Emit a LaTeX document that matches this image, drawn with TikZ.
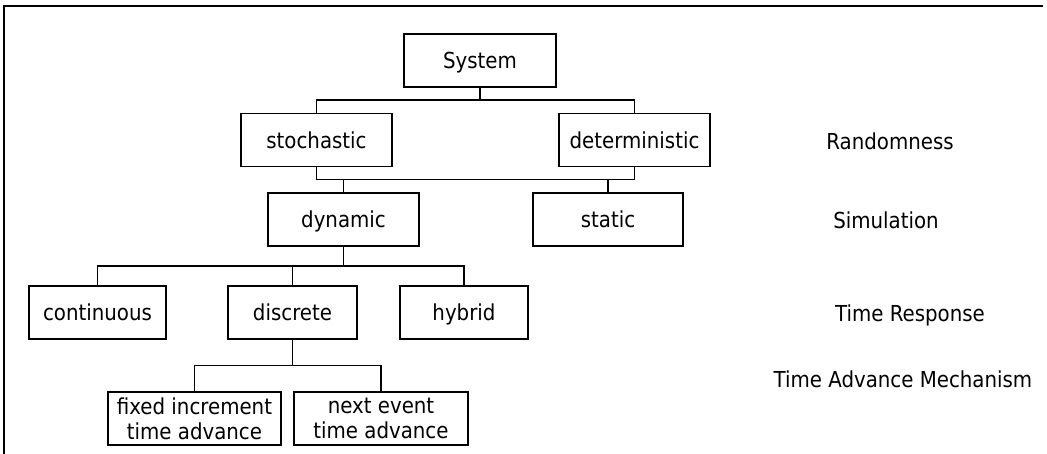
\documentclass[tikz,border=0pt]{standalone}
\usepackage{fontspec}
\setmainfont{DejaVu Sans Condensed}
\usetikzlibrary{calc}

\begin{document}
\begin{tikzpicture}[x=0.5pt,y=-0.5pt]
  % Styles
  \tikzstyle{class box}=[draw,line width=0.8pt,minimum height=26.5pt,inner sep=1pt,
    align=center,text depth=0pt,font=\fontsize{11}{12.5}\selectfont]
  \tikzstyle{level text}=[text depth=0pt,font=\fontsize{11}{12.5}\selectfont]
  \tikzstyle{branch}=[line width=0.75pt,
    to path={|- ($(\tikztostart)!0.5!(\tikztotarget)$) -| (\tikztotarget)}]

  \useasboundingbox (0,0) rectangle (1047,454);

  % Frame
  \draw[line width=1pt] (4,454) -- (4,6) -- (1043,6);

  % The classes
  \node[class box,minimum width=76pt]   (system)  at (480,60.5)  {System};
  \node[class box,minimum width=75.5pt] (stoch)   at (316.5,140) {stochastic};
  \node[class box,minimum width=75.5pt] (determ)  at (634.5,140) {deterministic};
  \node[class box,minimum width=75.5pt] (dynamic) at (343.5,219.5) {dynamic};
  \node[class box,minimum width=75pt]   (static)  at (608,219.5) {static};
  \node[class box,minimum width=68.5pt] (contin)  at (97.5,312.5) {continuous};
  \node[class box,minimum width=64.5pt] (discr)   at (292.5,312.5) {discrete};
  \node[class box,minimum width=64pt]   (hybrid)  at (464,312.5) {hybrid};
  \node[class box,minimum width=86.5pt] (fixed)   at (194.5,418.5) {fixed increment\\time advance};
  \node[class box,minimum width=87pt]   (next)    at (381,418.5) {next event\\time advance};

  % Levels
  \node[level text] (randomness) at (890,141) {Randomness};
  \node[level text] (simulation) at (886,220) {Simulation};
  \node[level text] (response)   at (910,313) {Time Response};
  \node[level text] (mechanism)  at (903,379) {Time Advance Mechanism};

  % Branches
  \draw[branch] (system.south) to (stoch.north);
  \draw[branch] (system.south) to (determ.north);
  \draw[branch] (stoch.south) to (dynamic.north);
  \draw[branch] (determ.south) to (static.north);
  \draw[branch] (stoch.south) |- ($(stoch.south)!0.5!(dynamic.north)$) -| (determ.south);
  \foreach \child in {contin,discr,hybrid}
    \draw[branch] (dynamic.south) to (\child.north);
  \foreach \child in {fixed,next}
    \draw[branch] (discr.south) to (\child.north);
\end{tikzpicture}
\end{document}
